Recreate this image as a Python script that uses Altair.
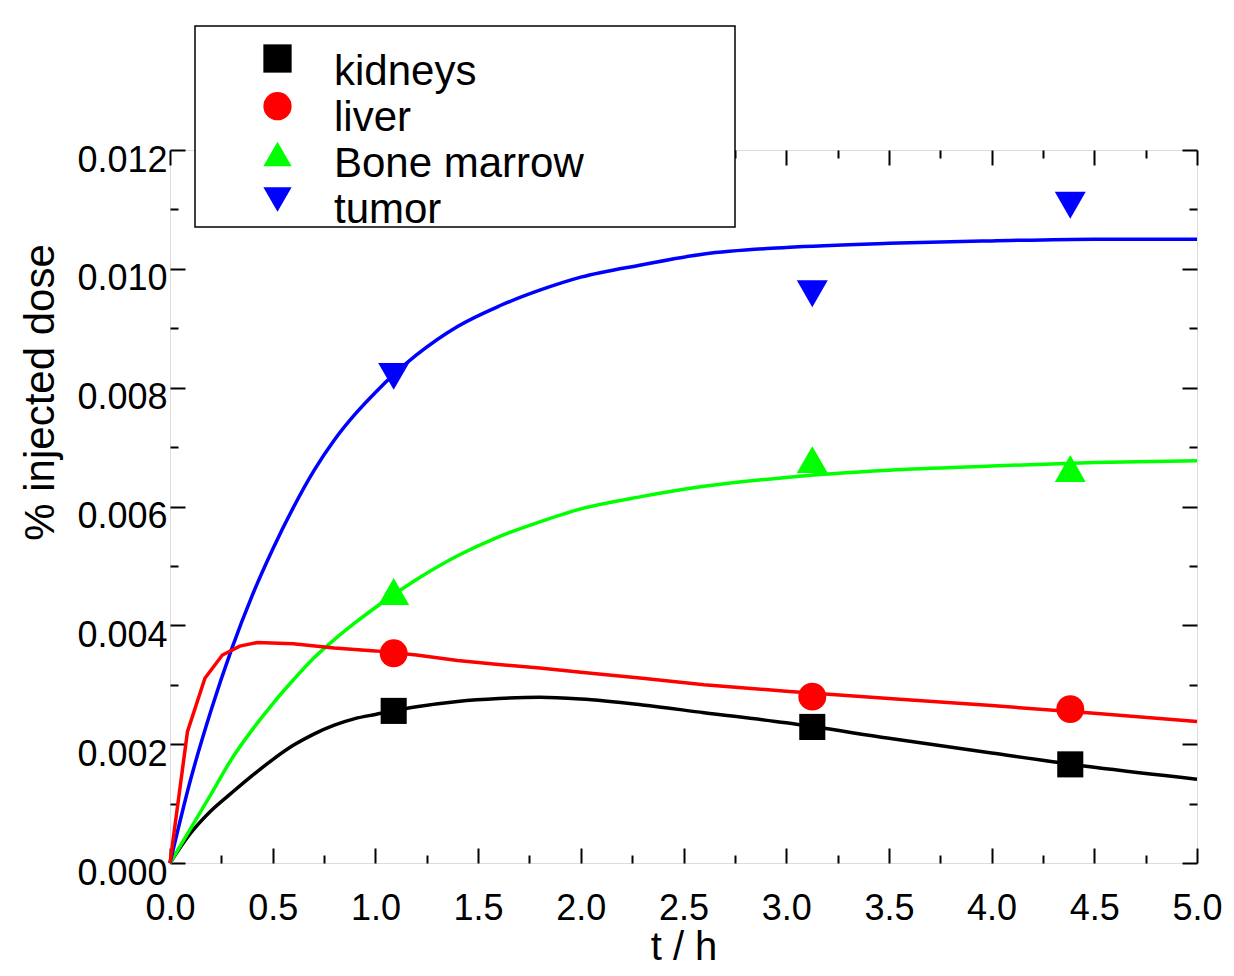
import altair as alt
import pandas as pd

# ---- data ----
organs = ["kidneys", "liver", "Bone marrow", "tumor"]
colors = ["#000000", "#ff0000", "#00ff00", "#0000ff"]
shapes = ["square", "circle", "triangle-up", "triangle-down"]

# measured points (t in h, % injected dose)
t_meas = [1.089, 3.127, 4.383]
kidneys_meas = [0.00256, 0.00229, 0.00166]
liver_meas = [0.00353, 0.00280, 0.00259]
marrow_meas = [0.00457, 0.00679, 0.00664]
tumor_meas = [0.00819, 0.00958, 0.01107]

# fitted curves
t_fit = [0, 0.1, 0.2, 0.3, 0.4, 0.5, 0.6, 0.7, 0.8, 0.9, 1.0, 1.2, 1.4, 1.6,
         1.8, 2.0, 2.3, 2.6, 3.0, 3.5, 4.0, 4.5, 5.0]
kidneys_fit = [0, 0.00050, 0.00088, 0.00118, 0.00147, 0.00174, 0.00198, 0.00217,
               0.00232, 0.00243, 0.00250, 0.00263, 0.00272, 0.00277, 0.00279,
               0.00276, 0.00266, 0.00253, 0.00236, 0.00210, 0.00185, 0.00161, 0.00141]
marrow_fit = [0, 0.00058, 0.00116, 0.00175, 0.00224, 0.00268, 0.00308, 0.00345,
              0.00376, 0.00404, 0.00430, 0.00477, 0.00517, 0.00549, 0.00574,
              0.00596, 0.00617, 0.00634, 0.00649, 0.00661, 0.00668, 0.00674, 0.00677]
tumor_fit = [0, 0.00140, 0.00257, 0.00360, 0.00450, 0.00528, 0.00598, 0.00660,
             0.00712, 0.00755, 0.00792, 0.00855, 0.00903, 0.00937, 0.00964,
             0.00986, 0.01007, 0.01025, 0.01036, 0.01043, 0.01047, 0.01050, 0.01050]
t_liver_fit = [0, 0.085, 0.17, 0.255, 0.34, 0.425, 0.6, 0.8, 1.0, 1.2, 1.4, 1.6,
               1.8, 2.0, 2.3, 2.6, 3.0, 3.5, 4.0, 4.5, 5.0]
liver_fit = [0, 0.00221, 0.00311, 0.00350, 0.00365, 0.00371, 0.00369, 0.00362,
             0.00357, 0.00350, 0.00341, 0.00334, 0.00328, 0.00321, 0.00311,
             0.00300, 0.00289, 0.00277, 0.00265, 0.00252, 0.00238]

x_major = [0.0, 0.5, 1.0, 1.5, 2.0, 2.5, 3.0, 3.5, 4.0, 4.5, 5.0]
x_minor = [0.25, 0.75, 1.25, 1.75, 2.25, 2.75, 3.25, 3.75, 4.25, 4.75]
y_major = [0.0, 0.002, 0.004, 0.006, 0.008, 0.010, 0.012]
y_minor = [0.001, 0.003, 0.005, 0.007, 0.009, 0.011]

# ---- tables ----
smooth_rows = []
for name, ts, vs in [("kidneys", t_fit, kidneys_fit),
                     ("Bone marrow", t_fit, marrow_fit), ("tumor", t_fit, tumor_fit)]:
    for t, v in zip(ts, vs):
        smooth_rows.append({"t": t, "v": v, "organ": name})
smooth_df = pd.DataFrame(smooth_rows)
liver_df = pd.DataFrame({"t": t_liver_fit, "v": liver_fit, "organ": "liver"})

meas_rows = []
for name, vs in [("kidneys", kidneys_meas), ("liver", liver_meas),
                 ("Bone marrow", marrow_meas), ("tumor", tumor_meas)]:
    for t, v in zip(t_meas, vs):
        meas_rows.append({"t": t, "v": v, "organ": name})
meas_df = pd.DataFrame(meas_rows)

W, H = 1027, 713
FONT = "Liberation Sans"

x_scale = alt.Scale(domain=[0, 5], nice=False, zero=False)
y_scale = alt.Scale(domain=[0, 0.012], nice=False)
color_scale = alt.Scale(domain=organs, range=colors)
shape_scale = alt.Scale(domain=organs, range=shapes)
# same mappings listed in other orders, so that each guide stays separate
stroke_scale = alt.Scale(domain=organs[1:] + organs[:1], range=colors[1:] + colors[:1])
opacity_scale = alt.Scale(domain=organs[::-1], range=[1, 1, 1, 1])


def tick_axis(orient, offset, values, size):
    return alt.Axis(orient=orient, offset=offset, values=values, ticks=True,
                    tickSize=size, tickWidth=2, tickColor="black", labels=False,
                    domain=False, grid=False, title=None)


x_label_axis = alt.Axis(orient="bottom", values=x_major, format=".1f",
                        labelFontSize=36, labelFont=FONT, labelColor="black",
                        labelPadding=28, labelFlush=False, labelOverlap=False,
                        ticks=False, tickSize=0, domain=False, grid=False,
                        title="t / h", titleFontSize=40, titleFont=FONT,
                        titleFontWeight="normal", titleColor="black",
                        titleY=96.5, titleBaseline="alphabetic")
y_label_axis = alt.Axis(orient="left", values=y_major, format=".3f",
                        labelFontSize=36, labelFont=FONT, labelColor="black",
                        labelPadding=3, labelBaseline="top", labelOffset=-7,
                        labelFlush=False, labelOverlap=False, ticks=False,
                        tickSize=0, domain=False, grid=False,
                        title="% injected dose", titleFontSize=42,
                        titleFont=FONT, titleFontWeight="normal", titleColor="black",
                        titleX=-117, titleY=242, titleAngle=270,
                        titleBaseline="alphabetic", titleAlign="center")

lines = alt.Chart(smooth_df).mark_line(strokeWidth=3.5, interpolate="monotone").encode(
    x=alt.X("t:Q", scale=x_scale, axis=x_label_axis),
    y=alt.Y("v:Q", scale=y_scale, axis=y_label_axis),
    stroke=alt.Stroke("organ:N", scale=stroke_scale, legend=None),
    order=alt.Order("t:Q"),
)

liver_line = alt.Chart(liver_df).mark_line(strokeWidth=3.5).encode(
    x=alt.X("t:Q", scale=x_scale, axis=None),
    y=alt.Y("v:Q", scale=y_scale, axis=None),
    stroke=alt.Stroke("organ:N", scale=stroke_scale, legend=None),
    order=alt.Order("t:Q"),
)

# legend: symbols and their texts are laid out as two aligned guides
symbol_legend = alt.Legend(orient="none", legendX=93, legendY=-106, title=None,
                           labelExpr="''", labelFontSize=1, labelOffset=0,
                           rowPadding=18.7, padding=0, symbolSize=800,
                           symbolStrokeWidth=0, symbolOpacity=1, zindex=1)
text_legend = alt.Legend(orient="none", legendX=122, legendY=-99, title=None,
                         values=organs, labelFontSize=42, labelFont=FONT,
                         labelColor="black", labelBaseline="middle",
                         labelOffset=0, labelLimit=600, rowPadding=4, padding=0,
                         symbolSize=0, symbolOpacity=0, symbolStrokeWidth=0,
                         symbolFillColor="white", zindex=1)

marker_size = (alt.when(alt.datum.organ == "kidneys").then(alt.value(680))
               .when(alt.datum.organ == "liver").then(alt.value(780))
               .otherwise(alt.value(960)))

points = alt.Chart(meas_df).mark_point(filled=True, strokeWidth=0).encode(
    x=alt.X("t:Q", scale=x_scale, axis=tick_axis("top", -H, x_major, 15)),
    y=alt.Y("v:Q", scale=y_scale, axis=tick_axis("right", -W, y_major, 15)),
    color=alt.Color("organ:N", scale=color_scale, legend=symbol_legend),
    shape=alt.Shape("organ:N", scale=shape_scale, legend=symbol_legend),
    opacity=alt.Opacity("organ:N", scale=opacity_scale, legend=text_legend),
    size=marker_size,
)

dummy3 = alt.Chart(meas_df).mark_point(opacity=0).encode(
    x=alt.X("t:Q", scale=x_scale, axis=tick_axis("top", -H, x_minor, 8)),
    y=alt.Y("v:Q", scale=y_scale, axis=tick_axis("right", -W, y_minor, 8)),
)
dummy4 = alt.Chart(meas_df).mark_point(opacity=0).encode(
    x=alt.X("t:Q", scale=x_scale, axis=tick_axis("bottom", -H, x_major, 15)),
    y=alt.Y("v:Q", scale=y_scale, axis=tick_axis("left", -W, y_major, 15)),
)
dummy5 = alt.Chart(meas_df).mark_point(opacity=0).encode(
    x=alt.X("t:Q", scale=x_scale, axis=tick_axis("bottom", -H, x_minor, 8)),
    y=alt.Y("v:Q", scale=y_scale, axis=tick_axis("left", -W, y_minor, 8)),
)

legend_box = alt.Chart(alt.Data(values=[{"box": 1}])).mark_rect(
    fill="white", stroke="black", strokeWidth=1.5
).encode(
    x=alt.value(25), x2=alt.value(565), y=alt.value(-124), y2=alt.value(77)
)

chart = alt.layer(lines, liver_line, dummy3, dummy4, dummy5, legend_box, points).resolve_axis(
    x="independent", y="independent"
).properties(
    width=W, height=H,
    autosize=alt.AutoSizeParams(type="none"),
    padding={"left": 162, "top": 142, "right": 29, "bottom": 105},
    background="white",
).configure_view(
    stroke="black", strokeWidth=2
).configure(font=FONT)

chart.save("out.html", embed_options={"renderer": "svg", "actions": False})
